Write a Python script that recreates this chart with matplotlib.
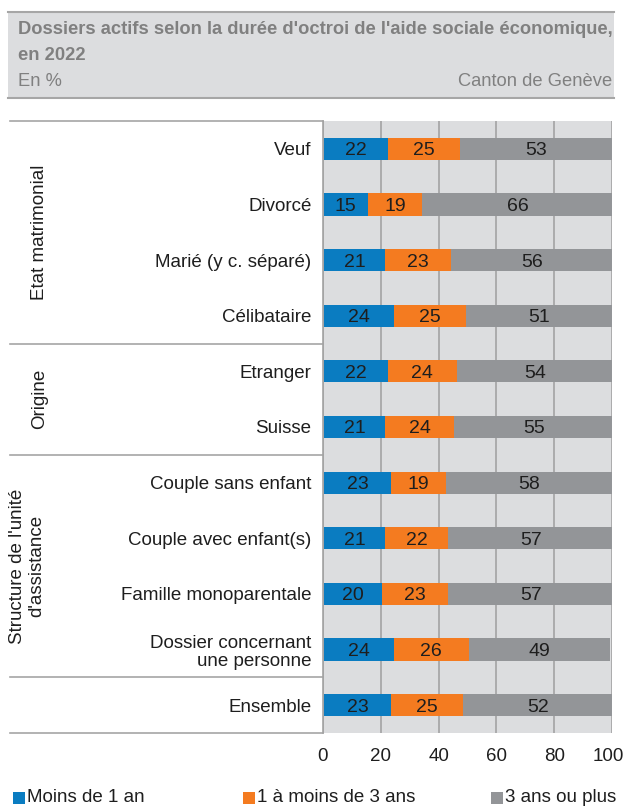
import matplotlib
matplotlib.use('Agg')
import matplotlib.pyplot as plt
from matplotlib.patches import Rectangle
from matplotlib.lines import Line2D
from matplotlib.transforms import blended_transform_factory, ScaledTranslation
import numpy as np

plt.rcParams['font.family'] = ['Liberation Sans', 'DejaVu Sans']

categories = ['Veuf', 'Divorcé', 'Marié (y c. séparé)', 'Célibataire',
              'Etranger', 'Suisse',
              'Couple sans enfant', 'Couple avec enfant(s)', 'Famille monoparentale',
              'Dossier concernant\nune personne', 'Ensemble']
moins_1an = [22, 15, 21, 24, 22, 21, 23, 21, 20, 24, 23]
un_a_3ans = [25, 19, 23, 25, 24, 24, 19, 22, 23, 26, 25]
trois_plus = [53, 66, 56, 51, 54, 55, 58, 57, 57, 49, 52]
series_names = ['Moins de 1 an', '1 à moins de 3 ans', '3 ans ou plus']
groups = [('Etat matrimonial', 0, 3), ('Origine', 4, 5),
          ("Structure de l'unité\nd'assistance", 6, 9)]
separators = [3.5, 5.5, 9.5]

colors = ['#0a7cc1', '#f47b20', '#939598']
bg = '#dcdddf'
grid_col = '#a3a3a3'
txt = '#1e1e1e'
fs = 13.5

fig = plt.figure(figsize=(6.25, 8.08), dpi=100)

# title box
W, H = 625, 808
fig.patches.append(Rectangle((8 / W, 1 - 98 / H), 606 / W, 86 / H, transform=fig.transFigure,
                             facecolor=bg, edgecolor='none', zorder=0))
for yy in (12, 98):
    fig.lines.append(Line2D([8 / W, 614 / W], [1 - yy / H] * 2, transform=fig.transFigure,
                            color='#a6a6a6', lw=1.5))
fig.text(18 / W, 1 - 30 / H, "Dossiers actifs selon la durée d'octroi de l'aide sociale économique,",
         fontsize=13.2, fontweight='bold', color='#808080', va='center')
fig.text(18 / W, 1 - 55 / H, "en 2022", fontsize=13.2, fontweight='bold', color='#808080', va='center')
fig.text(18 / W, 1 - 82 / H, "En %", fontsize=13.2, color='#808080', va='center')
fig.text(612 / W, 1 - 82 / H, "Canton de Genève", fontsize=13.2, color='#808080', va='center', ha='right')

ax = fig.add_axes([323 / W, 1 - 733 / H, 289 / W, 612 / H])
ax.set_facecolor(bg)
y = np.arange(len(categories))
left = np.zeros(len(categories))
for vals, c in zip([moins_1an, un_a_3ans, trois_plus], colors):
    vals = np.array(vals, dtype=float)
    ax.barh(y, vals, left=left + 0.4, height=0.4, color=c, zorder=3)
    for yi, l, v in zip(y, left, vals):
        ax.text(l + 0.4 + v / 2, yi, f'{int(v)}', ha='center', va='center_baseline',
                fontsize=14, color=txt, zorder=4)
    left += vals

ax.set_xlim(0, 100)
ax.set_ylim(len(categories) - 0.5, -0.5)
ax.set_xticks([0, 20, 40, 60, 80, 100])
ax.tick_params(axis='x', length=0, labelsize=fs, labelcolor=txt, pad=11)
ax.set_yticks([])
ax.xaxis.grid(True, color=grid_col, lw=1.2, zorder=1)
ax.set_axisbelow(True)
for s in ['top', 'right', 'bottom']:
    ax.spines[s].set_visible(False)
ax.spines['left'].set_color(grid_col)
ax.spines['left'].set_linewidth(1.2)
# keep "100" inside the canvas
last = ax.get_xticklabels()[-1]
last.set_transform(last.get_transform() + ScaledTranslation(-3 / 72, 0, fig.dpi_scale_trans))

# category labels
for yi, cat in zip(y, categories):
    ax.text(-4, yi, cat, ha='right', va='center_baseline', fontsize=fs, color=txt,
            clip_on=False, linespacing=1.1)

# frame lines on the label side
tr = blended_transform_factory(fig.transFigure, ax.transData)
for yy in [-0.5] + separators + [len(categories) - 0.5]:
    ax.add_line(Line2D([10 / W, 323 / W], [yy, yy], transform=tr, color='#a6a6a6',
                       lw=1.2, clip_on=False))

# group labels
for (name, a, b), xx in zip(groups, [40, 40, 27]):
    ax.text(xx / W, (a + b) / 2, name, transform=tr, rotation=90, ha='center', va='center',
            fontsize=fs, color=txt, linespacing=1.15)

# legend
for c, name, xx in zip(colors, series_names, [13, 243, 491]):
    fig.patches.append(Rectangle((xx / W, 1 - 804 / H), 12 / W, 12 / H,
                                 transform=fig.transFigure, facecolor=c, edgecolor='none'))
    fig.text((xx + 14) / W, 1 - 797 / H, name, fontsize=fs, color=txt, va='center')

fig.savefig('out.png', dpi=100)
